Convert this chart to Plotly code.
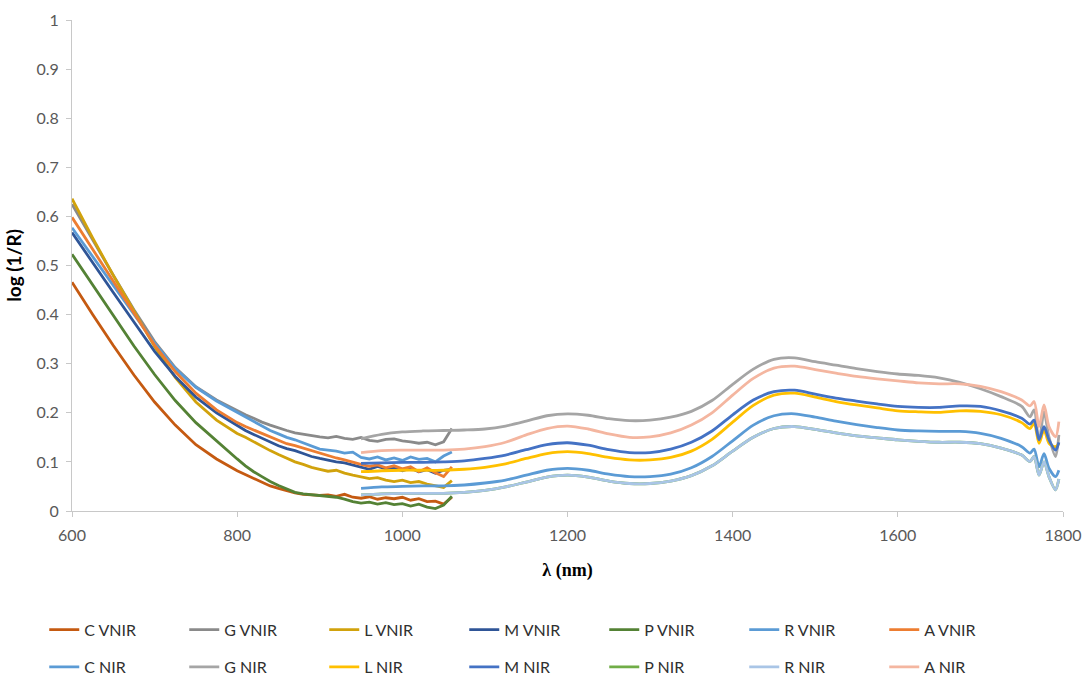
import plotly.graph_objects as go

# Wavelength grids (nm)
wl_vnir = [600, 625, 650, 675, 700, 725, 750, 775, 800,
           810, 820, 830, 840, 850, 860, 870, 880, 890, 900,
           910, 920, 930, 940, 950, 960, 970, 980, 990, 1000,
           1010, 1020, 1030, 1040, 1050, 1060]
wl_nir = [950, 975, 1000, 1025, 1050, 1075, 1100, 1125, 1150, 1175,
          1200, 1225, 1250, 1275, 1300, 1325, 1350, 1375, 1400, 1425,
          1450, 1475, 1500, 1525, 1550, 1575, 1600, 1625, 1650, 1675,
          1700, 1725, 1750, 1760, 1765, 1771, 1777, 1783, 1791, 1795]

# VNIR spectra, log(1/R)
c_vnir = [.466, .400, .337, .277, .222, .175, .135, .106, .082,
          .074, .066, .058, .051, .046, .041, .037, .034, .033, .032,
          .033, .030, .034, .028, .026, .029, .024, .027, .025, .028,
          .022, .025, .019, .020, .014, .028]
g_vnir = [.625, .552, .480, .410, .345, .292, .253, .226, .204,
          .196, .189, .181, .175, .169, .164, .159, .156, .153, .151,
          .149, .152, .148, .146, .150, .144, .142, .146, .147, .143,
          .141, .138, .140, .135, .141, .168]
l_vnir = [.636, .556, .480, .407, .335, .272, .222, .185, .158,
          .150, .141, .131, .123, .115, .108, .100, .095, .089, .085,
          .081, .083, .077, .073, .070, .066, .068, .063, .060, .063,
          .058, .060, .055, .051, .048, .062]
m_vnir = [.567, .505, .445, .385, .325, .274, .232, .200, .173,
          .164, .156, .148, .140, .133, .127, .123, .117, .111, .107,
          .103, .100, .098, .094, .090, .085, .091, .086, .088, .082,
          .087, .080, .084, .077, .083, .085]
p_vnir = [.523, .460, .398, .336, .278, .225, .180, .142, .106,
          .092, .080, .070, .060, .052, .045, .038, .035, .033, .031,
          .030, .028, .024, .019, .016, .018, .014, .017, .013, .015,
          .010, .014, .008, .005, .012, .030]
r_vnir = [.577, .518, .460, .402, .342, .290, .252, .224, .201,
          .192, .182, .172, .164, .157, .150, .145, .139, .133, .126,
          .124, .122, .118, .120, .109, .106, .110, .104, .108, .103,
          .110, .105, .107, .100, .112, .120]
a_vnir = [.598, .533, .468, .402, .338, .284, .240, .206, .180,
          .172, .165, .158, .150, .143, .137, .133, .128, .122, .117,
          .112, .108, .104, .099, .095, .091, .094, .088, .092, .086,
          .090, .080, .088, .078, .070, .090]

# NIR spectra, log(1/R)
c_nir = [.046, .049, .050, .051, .051, .053, .057, .063, .073, .083,
         .087, .083, .075, .070, .070, .075, .088, .111, .143, .175,
         .194, .198, .191, .183, .176, .170, .165, .163, .162, .162,
         .158, .148, .131, .118, .126, .090, .117, .087, .070, .083]
g_nir = [.147, .156, .161, .163, .164, .165, .167, .173, .183, .194,
         .198, .195, .188, .184, .185, .191, .203, .225, .258, .289,
         .309, .312, .304, .297, .290, .284, .279, .276, .271, .262,
         .249, .233, .213, .192, .206, .141, .202, .151, .111, .155]
l_nir = [.080, .082, .083, .083, .083, .085, .089, .096, .107, .117,
         .121, .117, .109, .104, .104, .109, .122, .146, .181, .215,
         .236, .240, .232, .223, .216, .210, .204, .202, .201, .204,
         .203, .196, .180, .168, .179, .138, .165, .138, .131, .138]
m_nir = [.097, .098, .099, .099, .100, .102, .107, .114, .125, .135,
         .139, .134, .125, .119, .119, .126, .140, .163, .196, .226,
         .243, .246, .238, .230, .224, .218, .213, .211, .211, .214,
         .213, .204, .189, .177, .185, .145, .172, .145, .124, .140]
p_nir = [.033, .035, .036, .036, .036, .038, .042, .049, .059, .069,
         .073, .069, .061, .056, .056, .061, .072, .092, .122, .150,
         .168, .172, .166, .159, .153, .149, .145, .142, .140, .140,
         .137, .128, .114, .101, .111, .073, .100, .070, .043, .065]
r_nir = [.033, .035, .036, .036, .036, .038, .042, .049, .059, .069,
         .073, .069, .061, .056, .056, .061, .072, .092, .122, .150,
         .168, .172, .166, .159, .153, .149, .145, .142, .140, .140,
         .137, .128, .114, .101, .111, .073, .100, .070, .043, .065]
a_nir = [.119, .123, .124, .124, .124, .126, .131, .140, .155, .168,
         .173, .167, .157, .150, .151, .159, .175, .200, .236, .270,
         .291, .295, .288, .281, .274, .269, .265, .261, .259, .259,
         .254, .243, .226, .214, .223, .172, .216, .172, .151, .182]

vnir_series = [
    ("C VNIR", c_vnir, "#C55A11"),
    ("G VNIR", g_vnir, "#8A8A8A"),
    ("L VNIR", l_vnir, "#D1A20C"),
    ("M VNIR", m_vnir, "#2F5597"),
    ("P VNIR", p_vnir, "#548235"),
    ("R VNIR", r_vnir, "#5B9BD5"),
    ("A VNIR", a_vnir, "#ED7D31"),
]
nir_series = [
    ("C NIR", c_nir, "#5B9BD5"),
    ("G NIR", g_nir, "#A5A5A5"),
    ("L NIR", l_nir, "#FFC000"),
    ("M NIR", m_nir, "#4472C4"),
    ("P NIR", p_nir, "#70AD47"),
    ("R NIR", r_nir, "#A9C5E6"),
    ("A NIR", a_nir, "#F4B6A0"),
]

fig = go.Figure()
for name, vals, color in vnir_series:
    fig.add_trace(go.Scatter(x=wl_vnir, y=vals, name=name, mode="lines",
                             line=dict(color=color, width=2.8),
                             legend="legend"))
for name, vals, color in nir_series:
    fig.add_trace(go.Scatter(x=wl_nir, y=vals, name=name, mode="lines",
                             line=dict(color=color, width=2.8,
                                       shape="spline", smoothing=0.8),
                             legend="legend2"))

axis_grey = "#C8C8C8"
tick_font = dict(family="Lato, Carlito, sans-serif", size=16, color="#595959")
legend_common = dict(orientation="h", xanchor="left", yanchor="top",
                     entrywidth=95, entrywidthmode="pixels",
                     font=dict(family="Lato, Carlito, sans-serif", size=16,
                               color="#303030"),
                     bgcolor="rgba(0,0,0,0)", itemwidth=30)

fig.update_layout(
    width=1084, height=677,
    margin=dict(l=72, r=21, t=20, b=166, autoexpand=False),
    paper_bgcolor="white", plot_bgcolor="white",
    showlegend=True,
    legend=dict(x=-0.028, y=-0.207, **legend_common),
    legend2=dict(x=-0.028, y=-0.283, **legend_common),
    xaxis=dict(range=[600, 1800], dtick=200, tick0=600,
               showline=True, linecolor=axis_grey, linewidth=1,
               ticks="outside", ticklen=5, tickcolor=axis_grey,
               ticklabelstandoff=5,
               showgrid=False, zeroline=False, tickfont=tick_font,
               title=dict(text="<b>λ (nm)</b>", standoff=20,
                          font=dict(family="Liberation Serif, serif",
                                    size=18, color="black"))),
    yaxis=dict(range=[0, 1], dtick=0.1, tick0=0,
               showline=True, linecolor=axis_grey, linewidth=1,
               ticks="outside", ticklen=5, tickcolor=axis_grey,
               ticklabelstandoff=4,
               showgrid=False, zeroline=False, tickfont=tick_font,
               title=dict(text="<b>log (1/R)</b>", standoff=9,
                          font=dict(family="Lato, Carlito, sans-serif",
                                    size=19, color="black"))),
)

fig.write_html("out.html")
